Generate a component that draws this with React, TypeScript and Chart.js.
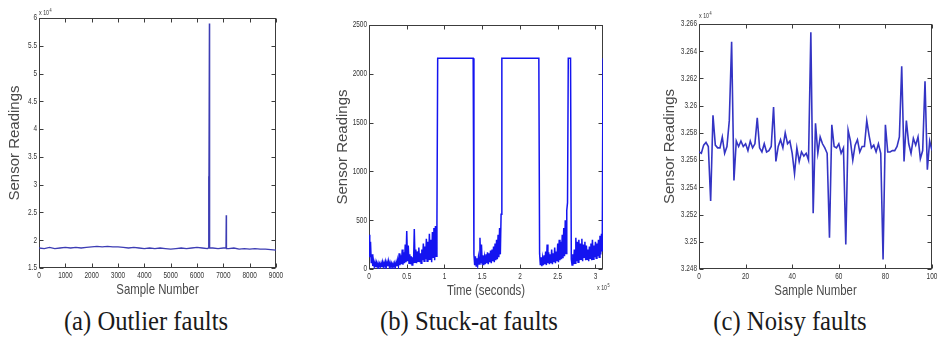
import React, { useEffect, useRef } from "react";
import { Chart, registerables } from "chart.js";

Chart.register(...registerables);

// ---------- (a) Outlier faults ----------
const aSampleX = [
  0, 200, 400, 600, 800, 1000, 1200, 1400, 1600, 1800,
  2000, 2200, 2400, 2600, 2800, 3000, 3200, 3400, 3600, 3800,
  4000, 4200, 4400, 4600, 4800, 5000, 5200, 5400, 5600, 5800,
  6000, 6200, 6400, 6430, 6440, 6450, 6470, 6480,
  6600, 6800, 7000, 7100, 7110, 7120, 7200,
  7400, 7600, 7800, 8000, 8200, 8400, 8600, 8800, 9000,
];
const aReadings = [
  1.86, 1.85, 1.87, 1.85, 1.86, 1.87, 1.86, 1.87, 1.86, 1.87,
  1.88, 1.89, 1.88, 1.89, 1.88, 1.88, 1.87, 1.86, 1.87, 1.86,
  1.85, 1.86, 1.85, 1.86, 1.85, 1.84, 1.85, 1.86, 1.85, 1.86,
  1.87, 1.86, 1.85, 1.86, 3.15, 1.9, 5.9, 1.86,
  1.86, 1.85, 1.86, 1.86, 2.45, 1.85, 1.85,
  1.86, 1.84, 1.85, 1.84, 1.85, 1.84, 1.84, 1.83, 1.82,
];
const aXTicks = [0, 1000, 2000, 3000, 4000, 5000, 6000, 7000, 8000, 9000];
const aYTicks = [1.5, 2, 2.5, 3, 3.5, 4, 4.5, 5, 5.5, 6];

// ---------- (b) Stuck-at faults ----------
const bNoiseStarts = [0, 1.39, 2.26, 2.68];
const bNoiseStep = 0.01;
const bNoise1 = [
  350, 120, 280, 60, 150, 30, 80, 25, 70, 20,
  65, 25, 60, 20, 55, 25, 60, 20, 70, 25,
  65, 30, 75, 25, 70, 30, 80, 25, 65, 30,
  60, 25, 55, 20, 60, 25, 70, 30, 90, 35,
  160, 40, 140, 50, 200, 45, 170, 60, 250, 70,
  390, 80, 240, 60, 150, 50, 130, 40, 120, 60,
  410, 70, 200, 60, 180, 80, 220, 70, 160, 60,
  200, 90, 260, 80, 230, 100, 310, 80, 280, 90,
  360, 100, 300, 70, 380, 120, 420, 90, 440, 130,
  470,
];
const bNoise2 = [
  150, 40, 130, 30, 110, 40, 120, 50, 320, 60,
  250, 50, 140, 40, 120, 50, 150, 60, 170, 50,
  160, 70, 190, 60, 200, 80, 230, 70, 260, 90,
  300, 100, 350, 120, 420, 150, 560,
];
const bNoise3 = [
  160, 40, 120, 30, 110, 40, 140, 50, 180, 40,
  250, 60, 170, 50, 150, 60, 200, 50, 160, 70,
  220, 60, 180, 80, 260, 70, 300, 90, 280, 100,
  350, 110, 420, 130, 500, 160, 600, 680,
];
const bNoise4 = [
  100, 40, 150, 50, 200, 60, 320, 80, 280, 70,
  300, 90, 260, 100, 310, 80, 250, 120, 280, 90,
  240, 100, 200, 80, 230, 110, 260, 90, 300, 100,
  240, 120, 280, 110, 260, 130, 300, 120, 340, 150,
  360, 180,
];
const bStuckRanges = [
  [0.91, 1.38],
  [1.76, 2.25],
  [2.64, 2.67],
];
const bStuckLevel = 2160;
const bEnd = [3.1, 2160];
const bXTicks = [0, 0.5, 1, 1.5, 2, 2.5, 3];
const bYTicks = [0, 500, 1000, 1500, 2000, 2500];

// ---------- (c) Noisy faults ----------
const cReadings = [
  3.2566, 3.2565, 3.2571, 3.2573, 3.257, 3.253, 3.2593, 3.2571, 3.2569, 3.2569,
  3.2577, 3.2565, 3.257, 3.2589, 3.2647, 3.2545, 3.2574, 3.257, 3.2574, 3.257,
  3.2572, 3.2567, 3.2574, 3.2569, 3.2572, 3.2591, 3.2569, 3.2566, 3.2572, 3.2566,
  3.2567, 3.257, 3.2599, 3.2559, 3.257, 3.2575, 3.2569, 3.258, 3.2572, 3.2574,
  3.2565, 3.255, 3.2569, 3.2559, 3.2566, 3.2563, 3.2565, 3.256, 3.2654, 3.2521,
  3.2587, 3.2565, 3.2577, 3.2572, 3.2569, 3.2565, 3.2503, 3.2586, 3.257, 3.2569,
  3.2572, 3.2565, 3.2569, 3.2498, 3.2582, 3.2574, 3.256, 3.2571, 3.2575, 3.2566,
  3.257, 3.257, 3.2589, 3.2578, 3.2569, 3.2571, 3.2566, 3.2572, 3.2565, 3.2487,
  3.2586, 3.2566, 3.2566, 3.2567, 3.2567, 3.257, 3.2577, 3.2629, 3.2559, 3.2589,
  3.2572, 3.2565, 3.2576, 3.2571, 3.2577, 3.2561, 3.2567, 3.2618, 3.2553, 3.2574,
  3.2567,
];
const cXTicks = [0, 20, 40, 60, 80, 100];
const cYTicks = [3.248, 3.25, 3.252, 3.254, 3.256, 3.258, 3.26, 3.262, 3.264, 3.266];

// ---------- build point lists ----------
const aPoints = aSampleX.map((x, i) => ({ x, y: aReadings[i] }));

function buildB() {
  const pts: { x: number; y: number }[] = [];
  const noise = [bNoise1, bNoise2, bNoise3, bNoise4];
  noise.forEach((seg, k) => {
    seg.forEach((y, i) => {
      pts.push({ x: +(bNoiseStarts[k] + i * bNoiseStep).toFixed(2), y });
    });
    if (k < bStuckRanges.length) {
      pts.push({ x: bStuckRanges[k][0], y: bStuckLevel });
      pts.push({ x: bStuckRanges[k][1], y: bStuckLevel });
    }
  });
  pts.push({ x: bEnd[0], y: bEnd[1] });
  return pts;
}
const bPoints = buildB();
const cPoints = cReadings.map((y, i) => ({ x: i, y }));

const fmt = (v: number) => String(parseFloat(v.toFixed(4)));

const SQ = 0.76;
const TICK_FONT = "8.5px 'Liberation Sans', Arial, sans-serif";
const TITLE_FONT = "15px 'Liberation Sans', Arial, sans-serif";

function sText(ctx: any, text: string, x: number, y: number, sx: number, align: string) {
  ctx.save();
  ctx.translate(x, y);
  ctx.scale(sx, 1);
  ctx.textAlign = align;
  ctx.fillText(text, 0, 0);
  ctx.restore();
}

function matlabPlugin(cfg: any) {
  return {
    id: "matlabAxes",
    beforeDatasetsDraw(chart: any) {
      const { ctx, chartArea: a, scales } = chart;
      ctx.save();
      const L = Math.round(a.left) + 0.5;
      const R = Math.round(a.right) - 0.5;
      const T = Math.round(a.top) + 0.5;
      const B = Math.round(a.bottom) - 0.5;
      ctx.strokeStyle = "#3c3c3c";
      ctx.lineWidth = 1;
      ctx.strokeRect(L, T, R - L, B - T);
      ctx.beginPath();
      const tl = 4;
      for (const v of cfg.xTicks) {
        const px = Math.round(scales.x.getPixelForValue(v)) + 0.5;
        ctx.moveTo(px, B);
        ctx.lineTo(px, B - tl);
        ctx.moveTo(px, T);
        ctx.lineTo(px, T + tl);
      }
      for (const v of cfg.yTicks) {
        const py = Math.round(scales.y.getPixelForValue(v)) + 0.5;
        ctx.moveTo(L, py);
        ctx.lineTo(L + tl, py);
        ctx.moveTo(R, py);
        ctx.lineTo(R - tl, py);
      }
      ctx.stroke();

      // tick labels
      ctx.fillStyle = "#333";
      ctx.font = TICK_FONT;
      ctx.textBaseline = "middle";
      for (const v of cfg.xTicks) {
        sText(ctx, fmt(v), scales.x.getPixelForValue(v), a.bottom + 8, SQ, "center");
      }
      for (const v of cfg.yTicks) {
        sText(ctx, fmt(v), a.left - 2, scales.y.getPixelForValue(v), SQ, "right");
      }

      // axis titles
      ctx.fillStyle = "#4a4a4a";
      ctx.font = TITLE_FONT;
      ctx.textBaseline = "middle";
      sText(ctx, cfg.xTitle, (a.left + a.right) / 2, a.bottom + 22, SQ, "center");
      ctx.save();
      ctx.translate(a.left + cfg.yTitleOffset, (a.top + a.bottom) / 2);
      ctx.rotate(-Math.PI / 2);
      ctx.textAlign = "center";
      ctx.fillText(cfg.yTitle, 0, 0);
      ctx.restore();

      // exponent label
      if (cfg.exp) {
        const [ex, ey, p] = cfg.exp;
        const x0 = a.left + ex;
        const y0 = ey === "top" ? a.top - cfg.expDy : a.bottom + cfg.expDy;
        ctx.fillStyle = "#333";
        ctx.textBaseline = "alphabetic";
        ctx.font = "7px 'Liberation Sans', Arial, sans-serif";
        const base = "x 10";
        sText(ctx, base, x0, y0, SQ, "left");
        const w = ctx.measureText(base).width * SQ;
        ctx.font = "5px 'Liberation Sans', Arial, sans-serif";
        sText(ctx, p, x0 + w + 0.5, y0 - 3, SQ, "left");
      }
      ctx.restore();
    },
  };
}

const H = 305;

const charts = [
  {
    left: 0, w: 300, padTop: 18, padRight: 24, yW: 39, xH: 37,
    points: aPoints, color: "#3d3db4", lw: 1.3,
    xMin: 0, xMax: 9000, yMin: 1.5, yMax: 6,
    xTicks: aXTicks, yTicks: aYTicks,
    xTitle: "Sample Number", yTitle: "Sensor Readings", yTitleOffset: -24,
    exp: [0, "top", "4"], expDy: 3,
  },
  {
    left: 310, w: 320, padTop: 25, padRight: 27, yW: 59, xH: 36,
    points: bPoints, color: "#1414f0", lw: 1.5,
    xMin: 0, xMax: 3.1, yMin: 0, yMax: 2500,
    xTicks: bXTicks, yTicks: bYTicks,
    xTitle: "Time (seconds)", yTitle: "Sensor Readings", yTitleOffset: -26,
    exp: [228, "bottom", "5"], expDy: 21,
  },
  {
    left: 630, w: 308, padTop: 24, padRight: 6, yW: 69, xH: 36,
    points: cPoints, color: "#3434c4", lw: 1.6,
    xMin: 0, xMax: 100, yMin: 3.248, yMax: 3.266,
    xTicks: cXTicks, yTicks: cYTicks,
    xTitle: "Sample Number", yTitle: "Sensor Readings", yTitleOffset: -29,
    exp: [0, "top", "4"], expDy: 6,
  },
];

function Panel({ cfg }: { cfg: any }) {
  const ref = useRef<HTMLCanvasElement | null>(null);
  useEffect(() => {
    if (!ref.current) return;
    const chart = new Chart(ref.current, {
      type: "line",
      data: {
        datasets: [
          {
            data: cfg.points,
            borderColor: cfg.color,
            borderWidth: cfg.lw,
            pointRadius: 0,
            tension: 0,
            fill: false,
          },
        ],
      },
      options: {
        animation: false,
        responsive: false,
        events: [],
        layout: { padding: { top: cfg.padTop, right: cfg.padRight, left: 0, bottom: 0 } },
        plugins: { legend: { display: false }, tooltip: { enabled: false } },
        scales: {
          x: {
            type: "linear",
            min: cfg.xMin,
            max: cfg.xMax,
            grid: { display: false, drawTicks: false },
            border: { display: false },
            ticks: { display: false },
            afterBuildTicks: (s: any) => { s.ticks = cfg.xTicks.map((v: number) => ({ value: v })); },
            afterFit: (s: any) => { s.height = cfg.xH; },
          },
          y: {
            type: "linear",
            min: cfg.yMin,
            max: cfg.yMax,
            grid: { display: false, drawTicks: false },
            border: { display: false },
            ticks: { display: false },
            afterBuildTicks: (s: any) => { s.ticks = cfg.yTicks.map((v: number) => ({ value: v })); },
            afterFit: (s: any) => { s.width = cfg.yW; },
          },
        },
      } as any,
      plugins: [matlabPlugin(cfg)],
    });
    return () => chart.destroy();
  }, []);
  return (
    <canvas
      ref={ref}
      width={cfg.w}
      height={H}
      style={{ position: "absolute", left: cfg.left, top: 0, width: cfg.w, height: H }}
    />
  );
}

const captions = [
  { text: "(a) Outlier faults", cx: 146 },
  { text: "(b) Stuck-at faults", cx: 469 },
  { text: "(c) Noisy faults", cx: 790 },
];

export default function App() {
  return (
    <div
      style={{
        position: "absolute",
        left: 0,
        top: 0,
        width: 938,
        height: 347,
        background: "#fff",
        overflow: "hidden",
      }}
    >
      {charts.map((c, i) => (
        <Panel key={i} cfg={c} />
      ))}
      {captions.map((c, i) => (
        <div
          key={i}
          style={{
            position: "absolute",
            left: c.cx - 150,
            top: 306,
            width: 300,
            textAlign: "center",
            fontFamily: "'Liberation Serif', 'Times New Roman', serif",
            fontSize: 28,
            lineHeight: "30px",
            color: "#1a1a1a",
            transform: "scaleX(0.88)",
            whiteSpace: "nowrap",
          }}
        >
          {c.text}
        </div>
      ))}
    </div>
  );
}
